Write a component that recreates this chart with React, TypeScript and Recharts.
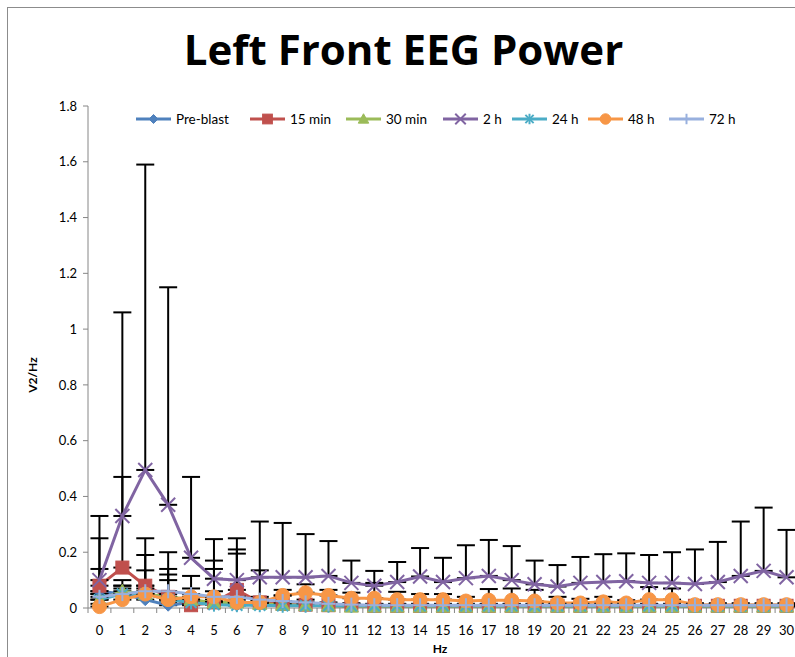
import React from 'react';
import { LineChart, Line, XAxis, YAxis, ErrorBar } from 'recharts';

const FONT = 'Lato, "Open Sans", "DejaVu Sans", sans-serif';

const hz = [0, 1, 2, 3, 4, 5, 6, 7, 8, 9, 10, 11, 12, 13, 14, 15, 16, 17, 18, 19, 20, 21, 22, 23, 24, 25, 26, 27, 28, 29, 30];

const preBlast = [0.06, 0.05, 0.03, 0.01, 0.02, 0.015, 0.01, 0.015, 0.01, 0.01, 0.008, 0.006, 0.005, 0.005, 0.005, 0.005, 0.005, 0.005, 0.005, 0.005, 0.005, 0.005, 0.005, 0.005, 0.005, 0.005, 0.005, 0.005, 0.005, 0.005, 0.005];
const preBlastErr = [0.08, 0.02, 0.02, 0.01, 0.01, 0.01, 0.01, 0.01, 0.005, 0.005, 0.005, 0.005, 0.005, 0.005, 0.005, 0.005, 0.005, 0.005, 0.005, 0.005, 0.005, 0.005, 0.005, 0.005, 0.005, 0.005, 0.005, 0.005, 0.005, 0.005, 0.005];

const min15 = [0.08, 0.145, 0.08, 0.04, 0.01, 0.02, 0.065, 0.02, 0.015, 0.012, 0.01, 0.01, 0.008, 0.008, 0.008, 0.008, 0.008, 0.008, 0.008, 0.008, 0.008, 0.008, 0.008, 0.008, 0.008, 0.008, 0.008, 0.008, 0.008, 0.008, 0.008];
const min15Err = [0.17, 0.325, 0.17, 0.16, 0.01, 0.15, 0.145, 0.01, 0.01, 0.005, 0.005, 0.005, 0.005, 0.005, 0.005, 0.005, 0.005, 0.005, 0.005, 0.005, 0.005, 0.005, 0.005, 0.005, 0.005, 0.005, 0.005, 0.005, 0.005, 0.005, 0.005];

const min30 = [0.03, 0.06, 0.05, 0.04, 0.03, 0.02, 0.02, 0.015, 0.012, 0.01, 0.008, 0.005, 0.005, 0.005, 0.005, 0.005, 0.005, 0.005, 0.005, 0.005, 0.005, 0.005, 0.005, 0.005, 0.005, 0.005, 0.005, 0.005, 0.005, 0.005, 0.005];
const min30Err = [0.02, 0.04, 0.14, 0.1, 0.02, 0.01, 0.01, 0.01, 0.005, 0.005, 0.005, 0.005, 0.005, 0.005, 0.005, 0.005, 0.005, 0.005, 0.005, 0.005, 0.005, 0.005, 0.005, 0.005, 0.005, 0.005, 0.005, 0.005, 0.005, 0.005, 0.005];

const h2 = [0.1, 0.33, 0.495, 0.37, 0.18, 0.105, 0.1, 0.11, 0.11, 0.11, 0.115, 0.09, 0.08, 0.093, 0.113, 0.093, 0.107, 0.115, 0.1, 0.085, 0.077, 0.09, 0.093, 0.096, 0.09, 0.09, 0.086, 0.093, 0.115, 0.133, 0.11];
const h2Err = [0.23, 0.73, 1.095, 0.78, 0.29, 0.142, 0.15, 0.2, 0.195, 0.155, 0.125, 0.08, 0.053, 0.072, 0.102, 0.087, 0.118, 0.129, 0.122, 0.085, 0.077, 0.093, 0.1, 0.1, 0.1, 0.11, 0.124, 0.144, 0.195, 0.227, 0.17];

const h24 = [0.03, 0.05, 0.05, 0.03, 0.02, 0.012, 0.01, 0.01, 0.008, 0.008, 0.008, 0.008, 0.008, 0.008, 0.008, 0.008, 0.008, 0.008, 0.008, 0.008, 0.008, 0.008, 0.008, 0.008, 0.008, 0.008, 0.008, 0.008, 0.008, 0.008, 0.008];
const h24Err = [0.02, 0.03, 0.03, 0.09, 0.01, 0.01, 0.01, 0.005, 0.005, 0.005, 0.005, 0.005, 0.005, 0.005, 0.005, 0.005, 0.005, 0.005, 0.005, 0.005, 0.005, 0.005, 0.005, 0.005, 0.005, 0.005, 0.005, 0.005, 0.005, 0.005, 0.005];

const h48 = [0.005, 0.03, 0.05, 0.03, 0.04, 0.04, 0.02, 0.02, 0.045, 0.055, 0.045, 0.035, 0.035, 0.03, 0.03, 0.03, 0.025, 0.028, 0.028, 0.025, 0.018, 0.018, 0.022, 0.018, 0.03, 0.03, 0.012, 0.012, 0.012, 0.012, 0.012];
const h48Err = [0.01, 0.02, 0.02, 0.02, 0.075, 0.02, 0.02, 0.02, 0.02, 0.03, 0.02, 0.02, 0.055, 0.028, 0.02, 0.02, 0.015, 0.04, 0.042, 0.04, 0.022, 0.015, 0.018, 0.01, 0.045, 0.04, 0.005, 0.005, 0.005, 0.005, 0.005];

const h72 = [0.04, 0.05, 0.06, 0.06, 0.05, 0.04, 0.04, 0.03, 0.025, 0.02, 0.015, 0.012, 0.01, 0.01, 0.01, 0.01, 0.01, 0.01, 0.01, 0.01, 0.01, 0.01, 0.01, 0.01, 0.01, 0.01, 0.01, 0.01, 0.01, 0.01, 0.01];
const h72Err = [0.02, 0.03, 0.075, 0.04, 0.02, 0.1, 0.155, 0.105, 0.02, 0.01, 0.005, 0.005, 0.005, 0.005, 0.005, 0.005, 0.005, 0.005, 0.005, 0.005, 0.005, 0.005, 0.005, 0.005, 0.005, 0.005, 0.005, 0.005, 0.005, 0.005, 0.005];

const yTicks = [0, 0.2, 0.4, 0.6, 0.8, 1, 1.2, 1.4, 1.6, 1.8];
const xTicks: number[] = [];
hz.forEach((h) => { xTicks.push(h - 0.5); xTicks.push(h); });
xTicks.push(30.5);

type Marker = 'diamond' | 'square' | 'triangle' | 'x' | 'star' | 'circle' | 'plus';

const series: { key: string; name: string; color: string; marker: Marker; values: number[]; errs: number[] }[] = [
  { key: 'pre', name: 'Pre-blast', color: '#4F81BD', marker: 'diamond', values: preBlast, errs: preBlastErr },
  { key: 'm15', name: '15 min', color: '#C0504D', marker: 'square', values: min15, errs: min15Err },
  { key: 'm30', name: '30 min', color: '#9BBB59', marker: 'triangle', values: min30, errs: min30Err },
  { key: 'h2', name: '2 h', color: '#8064A2', marker: 'x', values: h2, errs: h2Err },
  { key: 'h24', name: '24 h', color: '#4BACC6', marker: 'star', values: h24, errs: h24Err },
  { key: 'h48', name: '48 h', color: '#F79646', marker: 'circle', values: h48, errs: h48Err },
  { key: 'h72', name: '72 h', color: '#98B0DE', marker: 'plus', values: h72, errs: h72Err },
];

const legendLeft = [136, 250, 346, 443, 512, 588, 669];

const data = hz.map((h, i) => {
  const row: Record<string, any> = { hz: h };
  series.forEach((s) => {
    row[s.key] = s.values[i];
    row[s.key + 'Err'] = [0, s.errs[i]];
  });
  return row;
});

function drawMarker(marker: Marker, color: string, cx: number, cy: number, key?: any, scale = 1) {
  const s = scale;
  switch (marker) {
    case 'diamond':
      return <polygon key={key} points={`${cx},${cy - 6 * s} ${cx + 6 * s},${cy} ${cx},${cy + 6 * s} ${cx - 6 * s},${cy}`} fill={color} stroke={color} />;
    case 'square':
      return <rect key={key} x={cx - 6.5 * s} y={cy - 6.5 * s} width={13 * s} height={13 * s} fill={color} stroke={color} />;
    case 'triangle':
      return <polygon key={key} points={`${cx},${cy - 7 * s} ${cx + 7 * s},${cy + 5.5 * s} ${cx - 7 * s},${cy + 5.5 * s}`} fill={color} stroke={color} />;
    case 'x':
      return (
        <g key={key} stroke={color} strokeWidth={2}>
          <line x1={cx - 7 * s} y1={cy - 7 * s} x2={cx + 7 * s} y2={cy + 7 * s} />
          <line x1={cx - 7 * s} y1={cy + 7 * s} x2={cx + 7 * s} y2={cy - 7 * s} />
        </g>
      );
    case 'star':
      return (
        <g key={key} stroke={color} strokeWidth={2}>
          <line x1={cx - 5.5 * s} y1={cy - 5.5 * s} x2={cx + 5.5 * s} y2={cy + 5.5 * s} />
          <line x1={cx - 5.5 * s} y1={cy + 5.5 * s} x2={cx + 5.5 * s} y2={cy - 5.5 * s} />
          <line x1={cx} y1={cy - 7 * s} x2={cx} y2={cy + 7 * s} />
        </g>
      );
    case 'circle':
      return <circle key={key} cx={cx} cy={cy} r={7 * s} fill={color} stroke={color} />;
    case 'plus':
    default:
      return (
        <g key={key} stroke={color} strokeWidth={2}>
          <line x1={cx - 7 * s} y1={cy} x2={cx + 7 * s} y2={cy} />
          <line x1={cx} y1={cy - 7 * s} x2={cx} y2={cy + 7 * s} />
        </g>
      );
  }
}

const XTick = (props: any) => {
  const { x, y, payload } = props;
  const v = payload.value as number;
  if (Number.isInteger(v)) {
    return (
      <text x={x} y={y} dy="0.71em" textAnchor="middle" fontSize={13} fill="#000" fontFamily={FONT}>
        {String(v)}
      </text>
    );
  }
  return <line x1={x} y1={y - 18} x2={x} y2={y - 13} stroke="#868686" strokeWidth={1} />;
};

export default function App() {
  return (
    <div style={{ position: 'absolute', left: 0, top: 0, width: 795, height: 657, overflow: 'hidden', background: '#fff', fontFamily: FONT }}>
      <div style={{ position: 'absolute', left: 7, top: 7, width: 900, height: 700, border: '1px solid #8c8c8c', boxSizing: 'border-box' }} />
      <div style={{ position: 'absolute', left: 0, width: 807, top: 22, textAlign: 'center', fontSize: 42, fontWeight: 700, color: '#000', lineHeight: '54px', fontFamily: '"Open Sans", Lato, sans-serif' }}>
        Left Front EEG Power
      </div>
      <div style={{ position: 'absolute', left: 32, top: 375, transform: 'translate(-50%, -50%) rotate(-90deg)', fontSize: 12, fontWeight: 700, whiteSpace: 'nowrap' }}>
        V2/Hz
      </div>
      <div style={{ position: 'absolute', left: 440, top: 648, transform: 'translate(-50%, -50%)', fontSize: 12, fontWeight: 700 }}>
        Hz
      </div>
      {series.map((s, i) => (
        <div key={s.key} style={{ position: 'absolute', left: legendLeft[i], top: 110, display: 'flex', alignItems: 'center', gap: 5, fontSize: 13.5, whiteSpace: 'nowrap' }}>
          <svg width={35} height={18}>
            <line x1={0} y1={9} x2={35} y2={9} stroke={s.color} strokeWidth={3} />
            {drawMarker(s.marker, s.color, 17.5, 9, undefined, 0.75)}
          </svg>
          <span>{s.name}</span>
        </div>
      ))}
      <div style={{ position: 'absolute', left: 0, top: 0 }}>
        <LineChart width={800} height={657} data={data} margin={{ top: 106, right: 2, bottom: 0, left: 0 }}>
          <XAxis
            dataKey="hz"
            type="number"
            domain={[-0.5, 30.5]}
            ticks={xTicks}
            interval={0}
            allowDecimals
            tick={<XTick />}
            tickLine={false}
            tickSize={0}
            tickMargin={18}
            height={49}
            axisLine={{ stroke: '#868686', strokeWidth: 1 }}
          />
          <YAxis
            type="number"
            domain={[0, 1.8]}
            ticks={yTicks}
            interval={0}
            width={88}
            tickSize={5}
            tickMargin={6}
            axisLine={{ stroke: '#868686', strokeWidth: 1 }}
            tickLine={{ stroke: '#868686' }}
            tick={{ fontSize: 13, fill: '#000', fontFamily: FONT }}
            tickFormatter={(v: number) => String(Math.round(v * 10) / 10)}
          />
          {series.map((s) => (
            <Line
              key={s.key}
              dataKey={s.key}
              name={s.name}
              stroke={s.color}
              strokeWidth={3}
              isAnimationActive={false}
              activeDot={false}
              dot={(p: any) => drawMarker(s.marker, s.color, p.cx, p.cy, `${s.key}-${p.index}`)}
            >
              <ErrorBar dataKey={s.key + 'Err'} width={9} strokeWidth={2} stroke="#000" direction="y" isAnimationActive={false} />
            </Line>
          ))}
        </LineChart>
      </div>
    </div>
  );
}
